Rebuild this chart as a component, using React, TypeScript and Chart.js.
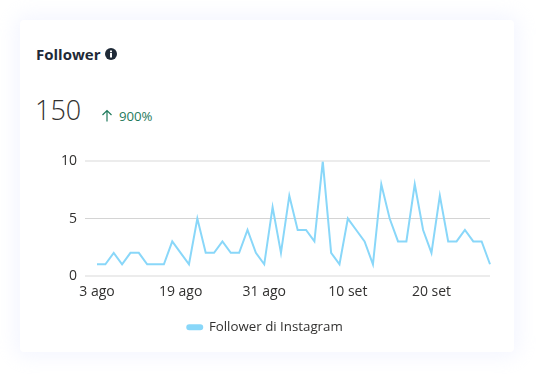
import React, { useEffect, useRef } from "react";
import { Chart, registerables } from "chart.js";

Chart.register(...registerables);

const FONT = '"Open Sans", "Noto Sans", sans-serif';
const TITLE = "Follower";
const TOTAL = "150";
const DELTA = "900%";
const SERIES_NAME = "Follower di Instagram";
const TICK_LABELS = ["3 ago", "19 ago", "31 ago", "10 set", "20 set"];
const TICK_EVERY = 10;
const VALUES = [
  1, 1, 2, 1, 2, 2, 1, 1, 1, 3, 2, 1, 5, 2, 2, 3, 2, 2, 4, 2, 1, 6, 2, 7, 4,
  4, 3, 10, 2, 1, 5, 4, 3, 1, 8, 5, 3, 3, 8, 4, 2, 7, 3, 3, 4, 3, 3, 1,
];
const CATEGORIES = VALUES.map((_, i) =>
  i % TICK_EVERY === 0 ? TICK_LABELS[i / TICK_EVERY] : ""
);
const LINE = "#89d7f9";
const TEXT = "#323130";

export default function App() {
  const ref = useRef<HTMLCanvasElement>(null);
  useEffect(() => {
    document.body.style.margin = "0";
    document.body.style.background = "#fff";
    const chart = new Chart(ref.current!, {
      type: "line",
      data: {
        labels: CATEGORIES,
        datasets: [
          {
            label: SERIES_NAME,
            data: VALUES,
            borderColor: LINE,
            backgroundColor: LINE,
            borderWidth: 2,
            tension: 0,
            pointRadius: 0,
          },
        ],
      },
      options: {
        animation: false,
        responsive: false,
        layout: { padding: { top: 10, right: 4, left: 4, bottom: 8 } },
        plugins: {
          tooltip: { enabled: false },
          legend: {
            position: "bottom",
            labels: {
              color: TEXT,
              font: { family: FONT, size: 13.3 },
              boxWidth: 15,
              boxHeight: 4,
              useBorderRadius: true,
              borderRadius: 2,
              padding: 8,
            },
          },
        },
        scales: {
          x: {
            offset: false,
            grid: { display: false },
            border: { display: false },
            ticks: {
              autoSkip: false,
              maxRotation: 0,
              padding: 0,
              color: TEXT,
              font: { family: FONT, size: 14 },
            },
            afterFit: (s: any) => {
              s.height = 37;
            },
          },
          y: {
            min: 0,
            max: 10,
            border: { display: false },
            grid: {
              color: (c: any) => (c.tick?.value === 5 ? "#d4d4d4" : "#ececec"),
              lineWidth: (c: any) => (c.tick?.value === 5 ? 1 : 2),
              tickLength: 12,
            },
            ticks: {
              stepSize: 5,
              padding: 8,
              color: TEXT,
              font: { family: FONT, size: 14 },
            },
            afterFit: (s: any) => {
              s.width = 57;
            },
          },
        },
      },
    });
    return () => chart.destroy();
  }, []);

  return (
    <div style={{ position: "relative", width: 554, height: 392, overflow: "hidden", background: "#fff", fontFamily: FONT }}>
      <div
        style={{
          position: "absolute",
          left: 20,
          top: 20,
          width: 494,
          height: 332,
          background: "#fff",
          borderRadius: 4,
          boxShadow: "0 0 20px 4px rgba(225,230,255,0.4)",
        }}
      />
      <div style={{ position: "absolute", left: 36, top: 44, fontSize: 15, fontWeight: 700, lineHeight: "20px", color: "#1f2a37" }}>
        {TITLE}
      </div>
      <svg style={{ position: "absolute", left: 105, top: 48 }} width={12} height={12} viewBox="0 0 12 12">
        <circle cx={6} cy={6} r={6} fill="#1f2a37" />
        <rect x={5} y={5} width={2} height={4.5} fill="#fff" />
        <rect x={5} y={2.5} width={2} height={1.7} fill="#fff" />
      </svg>
      <div style={{ position: "absolute", left: 35, top: 90, fontSize: 27, fontWeight: 300, lineHeight: "40px", color: "#323130" }}>
        {TOTAL}
      </div>
      <svg style={{ position: "absolute", left: 101, top: 109 }} width={12} height={13} viewBox="0 0 12 13">
        <path d="M6 12.5V1.5M1.5 6L6 1.5L10.5 6" fill="none" stroke="#1f7a5c" strokeWidth={1.2} />
      </svg>
      <div style={{ position: "absolute", left: 119, top: 106, fontSize: 13.2, lineHeight: "20px", color: "#1f7a5c" }}>
        {DELTA}
      </div>
      <canvas ref={ref} width={458} height={207} style={{ position: "absolute", left: 36, top: 145 }} />
    </div>
  );
}
